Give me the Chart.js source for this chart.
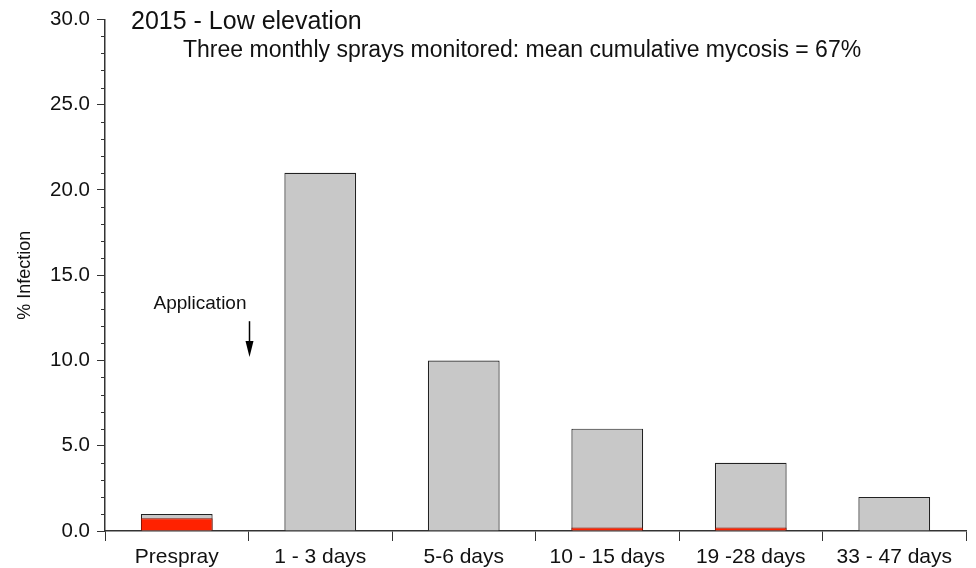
<!DOCTYPE html>
<html>
<head>
<meta charset="utf-8">
<script src="https://cdn.jsdelivr.net/npm/chart.js@4/dist/chart.umd.min.js"></script>
<style>
html,body{margin:0;padding:0;background:#fff;}
#wrap{width:976px;height:568px;}
</style>
</head>
<body>
<div id="wrap"><canvas id="c" width="976" height="568"></canvas></div>
<script>
const categories = ['Prespray', '1 - 3 days', '5-6 days', '10 - 15 days', '19 -28 days', '33 - 47 days'];
const totalInfection = [1.0, 21.0, 10.0, 6.0, 4.0, 2.0];
const mycosis = [0.75, null, null, 0.2, 0.2, null];
const yTicks = [0, 5, 10, 15, 20, 25, 30];
const titleText = '2015 - Low elevation';
const subtitleText = 'Three monthly sprays monitored: mean cumulative mycosis = 67%';
const annotationText = 'Application';

const FONT = '"Liberation Sans", Arial, Helvetica, sans-serif';

const overlay = {
  id: 'overlay',
  afterDraw(chart) {
    const ctx = chart.ctx;
    const x = chart.scales.x, y = chart.scales.y;
    ctx.save();
    // minor ticks on y axis
    ctx.strokeStyle = '#333';
    ctx.lineWidth = 1;
    for (let v = 0; v <= 30; v++) {
      if (v % 5 === 0) continue;
      const py = Math.round(y.getPixelForValue(v)) + 0.5;
      ctx.beginPath();
      ctx.moveTo(x.left - 4, py);
      ctx.lineTo(x.left, py);
      ctx.stroke();
    }
    // titles
    ctx.fillStyle = '#111';
    ctx.textBaseline = 'middle';
    ctx.textAlign = 'left';
    ctx.font = '25px ' + FONT;
    ctx.fillText(titleText, x.left + 26, y.getPixelForValue(29.85));
    ctx.font = '23px ' + FONT;
    ctx.fillText(subtitleText, x.left + 78, y.getPixelForValue(28.15));
    // annotation
    const ax = (x.getPixelForValue(0) + x.getPixelForValue(1)) / 2 + 1;
    ctx.font = '19px ' + FONT;
    ctx.textAlign = 'right';
    ctx.fillText(annotationText, ax - 3, y.getPixelForValue(13.3));
    ctx.strokeStyle = '#000';
    ctx.lineWidth = 1.5;
    const yTop = y.getPixelForValue(12.3), yBot = y.getPixelForValue(10.2);
    ctx.beginPath();
    ctx.moveTo(ax, yTop);
    ctx.lineTo(ax, yBot - 14);
    ctx.stroke();
    ctx.fillStyle = '#000';
    ctx.beginPath();
    ctx.moveTo(ax - 4, yBot - 16);
    ctx.lineTo(ax + 4, yBot - 16);
    ctx.lineTo(ax, yBot);
    ctx.closePath();
    ctx.fill();
    ctx.restore();
  }
};

new Chart(document.getElementById('c'), {
  type: 'bar',
  data: {
    labels: categories,
    datasets: [
      {
        label: 'Mycosis',
        data: mycosis,
        backgroundColor: '#ff2200',
        borderColor: '#8a1000',
        borderWidth: 1,
        barPercentage: 0.5,
        categoryPercentage: 1.0
      },
      {
        label: 'Infection',
        data: totalInfection,
        backgroundColor: '#c8c8c8',
        borderColor: '#222',
        borderWidth: 1.2,
        barPercentage: 0.5,
        categoryPercentage: 1.0
      }
    ]
  },
  options: {
    responsive: false,
    animation: false,
    layout: { padding: { top: 18, right: 10, left: 0, bottom: 0 } },
    plugins: { legend: { display: false }, tooltip: { enabled: false } },
    scales: {
      x: {
        stacked: true,
        offset: true,
        grid: { display: true, offset: true, drawOnChartArea: false, tickLength: 10, color: '#333', lineWidth: 1 },
        border: { display: true, color: '#333', width: 1.5 },
        ticks: { color: '#111', font: { family: FONT, size: 21 }, padding: 4, maxRotation: 0, autoSkip: false },
        afterFit(s) { s.height = 37; }
      },
      y: {
        stacked: false,
        min: 0, max: 30,
        afterBuildTicks(s) { s.ticks = yTicks.map(v => ({ value: v })); },
        grid: { display: true, drawOnChartArea: false, tickLength: 8, color: '#333', lineWidth: 1 },
        border: { display: true, color: '#333', width: 1.5 },
        ticks: { color: '#111', font: { family: FONT, size: 20.5 }, padding: 7, callback: v => Number(v).toFixed(1) },
        title: { display: true, text: '% Infection', color: '#111', font: { family: FONT, size: 18 }, padding: { top: 14, bottom: 0 } },
        afterFit(s) { s.width = 105; }
      }
    }
  },
  plugins: [overlay]
});
</script>
</body>
</html>
